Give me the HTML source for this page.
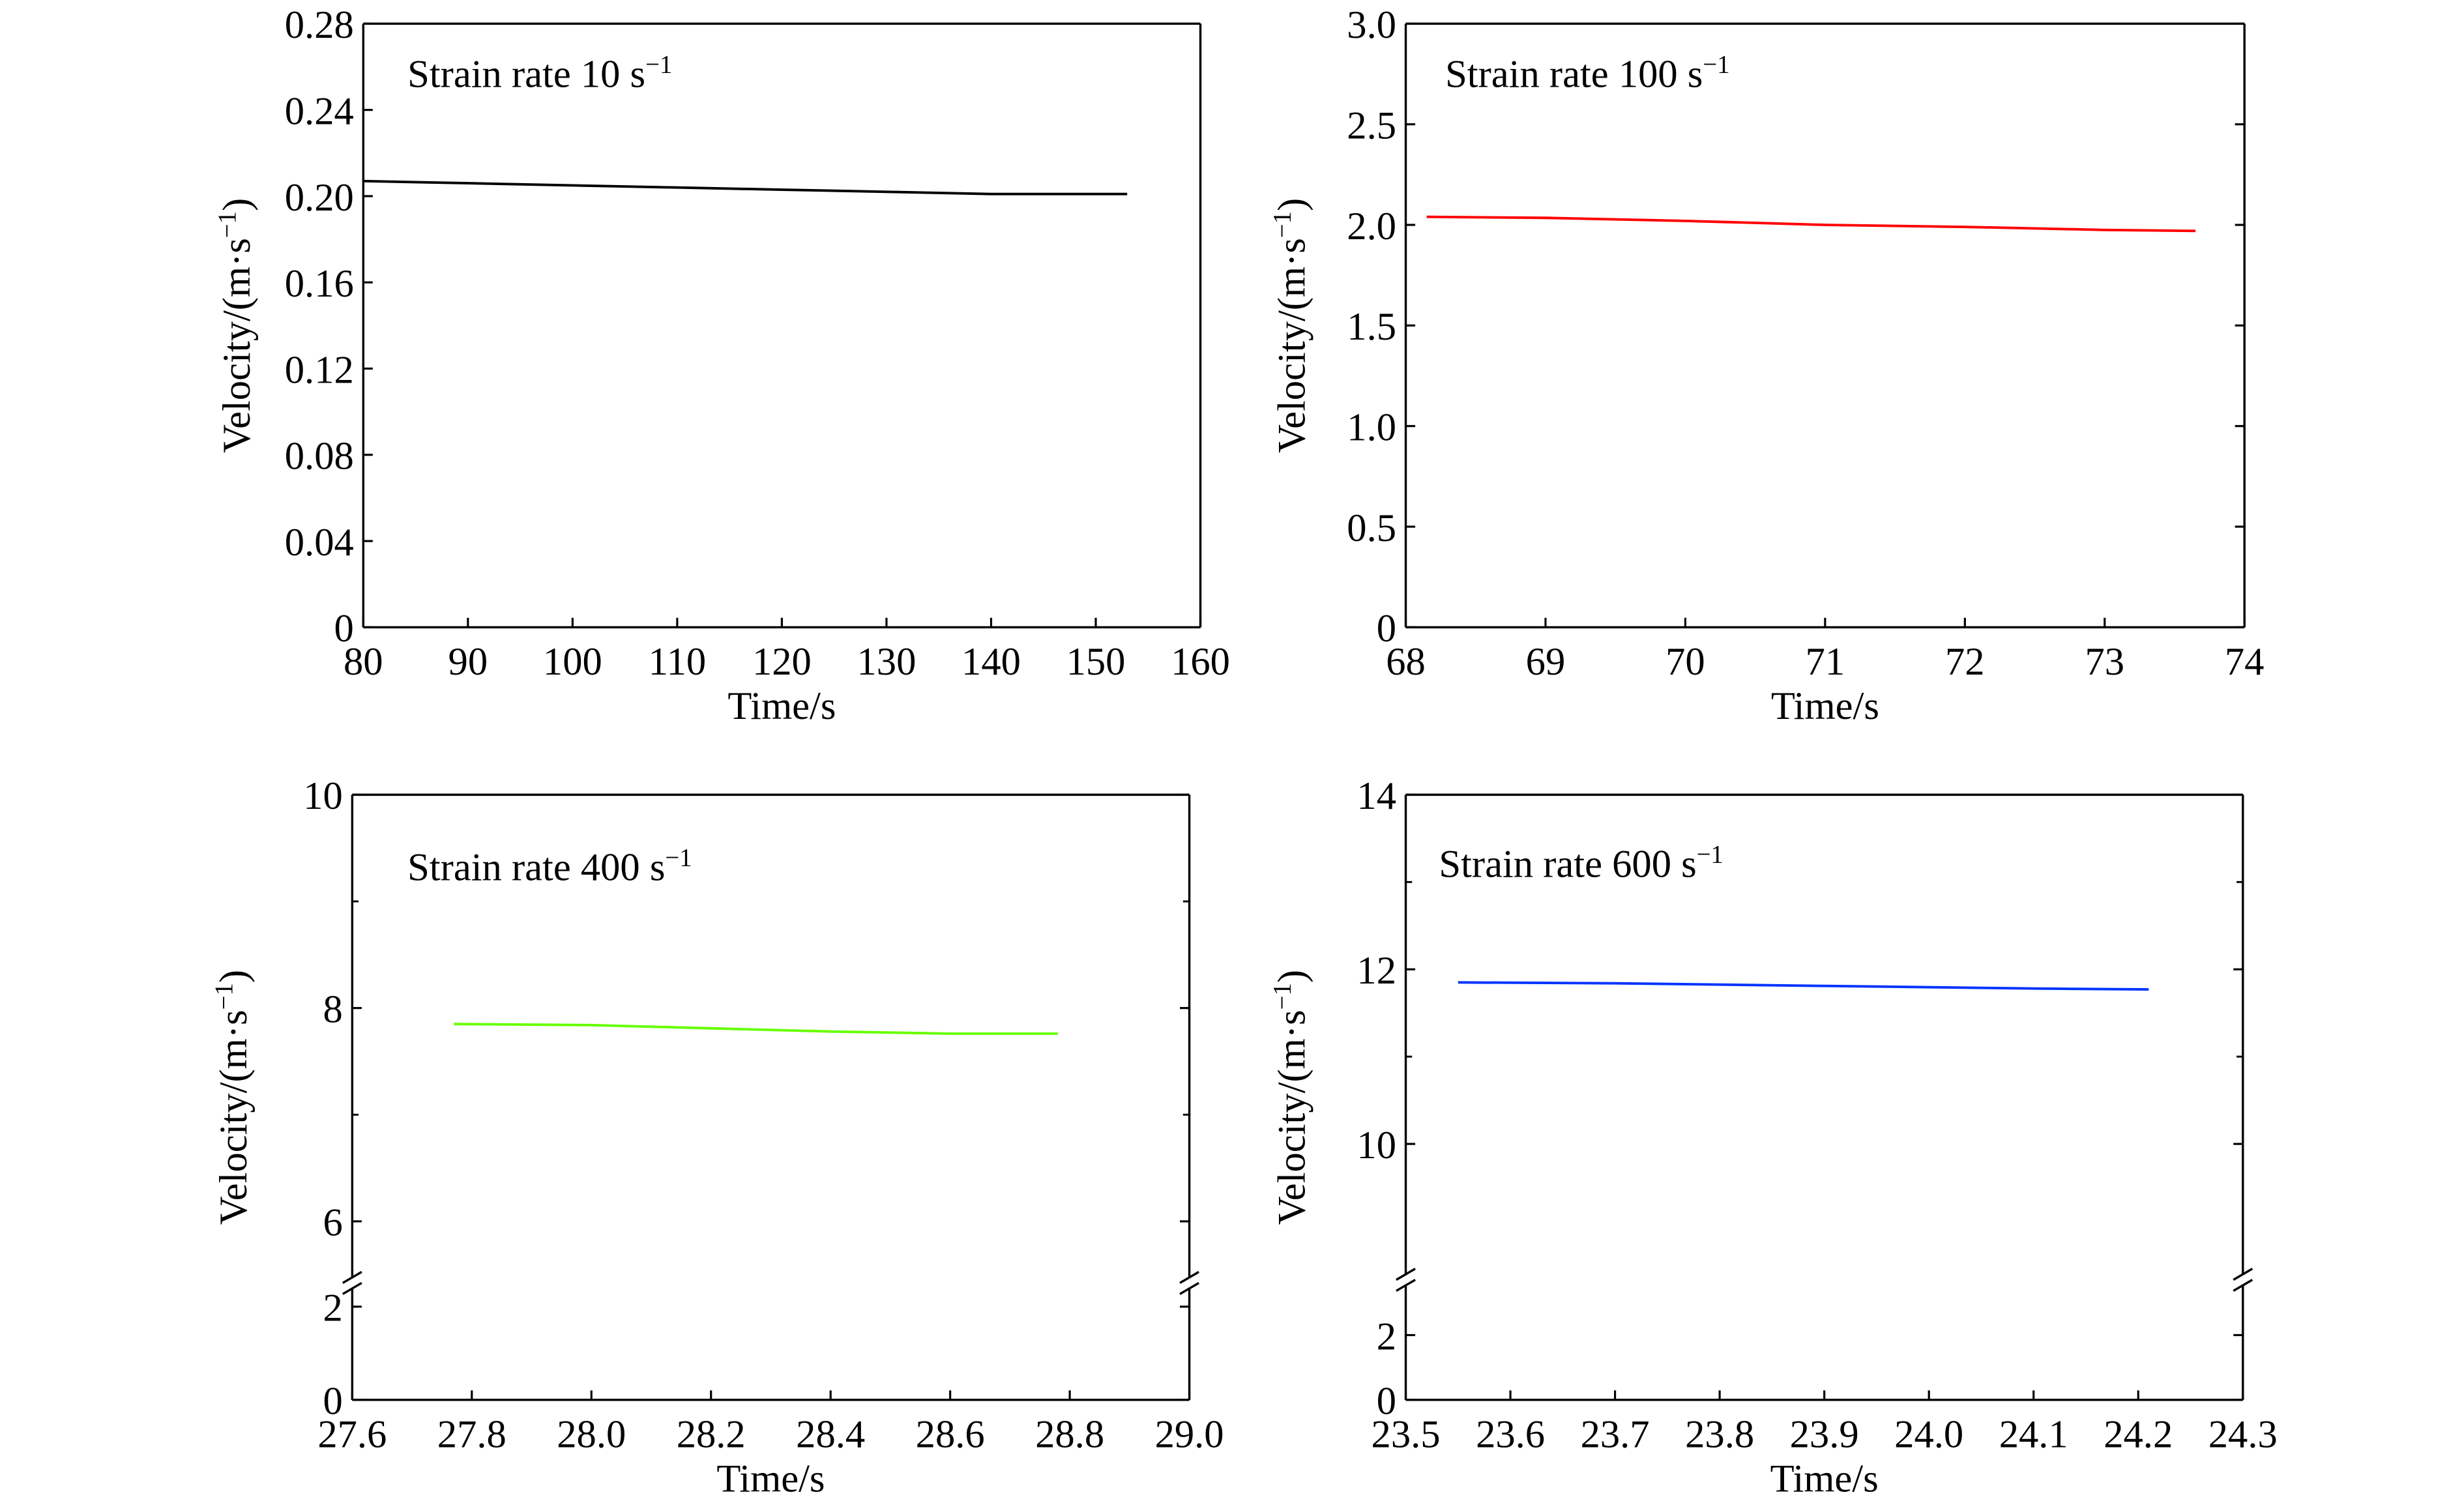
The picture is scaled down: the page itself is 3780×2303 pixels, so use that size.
<!DOCTYPE html>
<html><head><meta charset="utf-8"><style>
html,body{margin:0;padding:0;background:#fff;}
svg{display:block;}
text{font-family:"Liberation Serif",serif;fill:#000;}
</style></head><body>
<svg id="fig" width="3780" height="2303" viewBox="0 0 1560 950" preserveAspectRatio="none" xmlns="http://www.w3.org/2000/svg"></svg>
<script>
// Panel data
const p1Times = [80, 90, 100, 110, 120, 130, 140, 153];
const p1Vel = [0.207, 0.206, 0.205, 0.204, 0.203, 0.202, 0.201, 0.201];
const p2Times = [68.15, 69, 70, 71, 72, 73, 73.65];
const p2Vel = [2.04, 2.035, 2.02, 2.0, 1.99, 1.975, 1.97];
const p3Times = [27.77, 28.0, 28.2, 28.4, 28.6, 28.78];
const p3Vel = [7.85, 7.84, 7.81, 7.78, 7.76, 7.76];
const p4Times = [23.55, 23.7, 23.9, 24.1, 24.21];
const p4Vel = [11.85, 11.84, 11.81, 11.78, 11.77];
const p1XTicks = ["80","90","100","110","120","130","140","150","160"];
const p1YTicks = ["0","0.04","0.08","0.12","0.16","0.20","0.24","0.28"];
const p2XTicks = ["68","69","70","71","72","73","74"];
const p2YTicks = ["0","0.5","1.0","1.5","2.0","2.5","3.0"];
const p3XTicks = ["27.6","27.8","28.0","28.2","28.4","28.6","28.8","29.0"];
const p3YTicksUpper = ["6","8","10"];
const p3YTicksLower = ["0","2"];
const p4XTicks = ["23.5","23.6","23.7","23.8","23.9","24.0","24.1","24.2","24.3"];
const p4YTicksUpper = ["10","12","14"];
const p4YTicksLower = ["0","2"];

const NS = "http://www.w3.org/2000/svg";
const svg = document.getElementById('fig');
function mk(tag, attrs, parent){
  const e = document.createElementNS(NS, tag);
  for (const k in attrs) e.setAttribute(k, attrs[k]);
  (parent||svg).appendChild(e);
  return e;
}
function txt(s, x, y, anchor, size, parent){
  const t = mk('text', {x:x, y:y, 'text-anchor':anchor, 'font-size':size}, parent);
  t.textContent = s;
  return t;
}

function panel(cfg){
  const g = mk('g', {});
  
  
  const L=cfg.L, R=cfg.R, T=cfg.T, B=cfg.B;
  const xs = v => L + (v - cfg.xmin)/(cfg.xmax - cfg.xmin)*(R-L);
  let ys;
  if (cfg.broken){
    ys = v => v >= cfg.upMin ? cfg.upY0 - (v - cfg.upMin)*(cfg.upY0 - T)/(cfg.upMax - cfg.upMin)
                             : B - (v - 0)*(B - cfg.loY2)/cfg.loMax;
  } else {
    ys = v => B - (v - cfg.ymin)/(cfg.ymax - cfg.ymin)*(B-T);
  }
  const frame = mk('g', {}, g);
  
  
  const st = {stroke:'#000','stroke-width':1.4, fill:'none'};
  mk('line', Object.assign({x1:L,y1:T,x2:R,y2:T}, st), frame);
  mk('line', Object.assign({x1:L,y1:B,x2:R,y2:B}, st), frame);
  if (cfg.broken){
    const b1 = cfg.brk - 3, b2 = cfg.brk + 3;
    [L,R].forEach(x=>{
      mk('line', Object.assign({x1:x,y1:T,x2:x,y2:b1}, st), frame);
      mk('line', Object.assign({x1:x,y1:b2,x2:x,y2:B}, st), frame);
      mk('line', Object.assign({x1:x-6,y1:b1+3,x2:x+6,y2:b1-4}, st), frame);
      mk('line', Object.assign({x1:x-6,y1:b2+4,x2:x+6,y2:b2-3}, st), frame);
    });
  } else {
    mk('line', Object.assign({x1:L,y1:T,x2:L,y2:B}, st), frame);
    mk('line', Object.assign({x1:R,y1:T,x2:R,y2:B}, st), frame);
  }
  const xt = mk('g', {}, g);
  
  
  cfg.xTicks.forEach(s=>{
    const x = xs(parseFloat(s));
    mk('line', {x1:x,y1:B,x2:x,y2:B-6,stroke:'#000','stroke-width':1.3}, xt);
    txt(s, x, B+30, 'middle', 25, xt);
  });
  const yt = mk('g', {}, g);
  
  
  cfg.yTicks.forEach(s=>{
    const y = ys(parseFloat(s));
    mk('line', {x1:L,y1:y,x2:L+6,y2:y,stroke:'#000','stroke-width':1.3}, yt);
    if (cfg.rightTicks) mk('line', {x1:R,y1:y,x2:R-6,y2:y,stroke:'#000','stroke-width':1.3}, yt);
    txt(s, L-6, y+9, 'end', 25, yt);
  });
  (cfg.minor||[]).forEach(v=>{
    const y = ys(v);
    mk('line', {x1:L,y1:y,x2:L+4,y2:y,stroke:'#000','stroke-width':1.2}, yt);
    if (cfg.rightTicks) mk('line', {x1:R,y1:y,x2:R-4,y2:y,stroke:'#000','stroke-width':1.2}, yt);
  });
  const xtl = txt('Time/s', (L+R)/2, B+58, 'middle', 25, g);
  
  
  const cy = (T+B)/2;
  const ytl = mk('text', {x:0, y:0, 'text-anchor':'middle', 'font-size':25,
    transform:'translate('+(cfg.ytx)+','+cy+') rotate(-90)'}, g);
  ytl.innerHTML = 'Velocity/(m·s<tspan dy="-9" font-size="16">−1</tspan><tspan dy="9">)</tspan>';
  
  
  const lab = mk('text', {x:cfg.labX, y:cfg.labY, 'font-size':25}, g);
  lab.innerHTML = cfg.label + ' s<tspan dy="-9" font-size="16">−1</tspan>';
  
  
  const pts = cfg.t.map((t,i)=> xs(t).toFixed(2)+','+ys(cfg.v[i]).toFixed(2)).join(' ');
  const pl = mk('polyline', {points:pts, fill:'none', stroke:cfg.color, 'stroke-width':1.6}, g);
  
  
}

panel({name:'panel-strain-10', L:230,R:760,T:15,B:397, xmin:80,xmax:160, ymin:0,ymax:0.28,
  xTicks:p1XTicks, yTicks:p1YTicks, ytx:158, label:'Strain rate 10', labX:258, labY:55,
  t:p1Times, v:p1Vel, color:'#000'});
panel({name:'panel-strain-100', L:890,R:1421,T:15,B:397, xmin:68,xmax:74, ymin:0,ymax:3.0,
  xTicks:p2XTicks, yTicks:p2YTicks, ytx:826, label:'Strain rate 100', labX:915, labY:55,
  rightTicks:true, t:p2Times, v:p2Vel, color:'#ff0000'});
panel({name:'panel-strain-400', L:223,R:753,T:503,B:886, xmin:27.6,xmax:29.0,
  broken:true, upMin:6, upMax:10, upY0:773, loMax:2, loY2:827, brk:812,
  xTicks:p3XTicks, yTicks:p3YTicksUpper.concat(p3YTicksLower), minor:[7,9],
  ytx:156, label:'Strain rate 400', labX:258, labY:557, rightTicks:true,
  t:p3Times, v:p3Vel, color:'#66ff00'});
panel({name:'panel-strain-600', L:890,R:1420,T:503,B:886, xmin:23.5,xmax:24.3,
  broken:true, upMin:10, upMax:14, upY0:724, loMax:2, loY2:845, brk:810,
  xTicks:p4XTicks, yTicks:p4YTicksUpper.concat(p4YTicksLower), minor:[11,13],
  ytx:826, label:'Strain rate 600', labX:911, labY:555, rightTicks:true,
  t:p4Times, v:p4Vel, color:'#0033ff'});
</script>
</body></html>
